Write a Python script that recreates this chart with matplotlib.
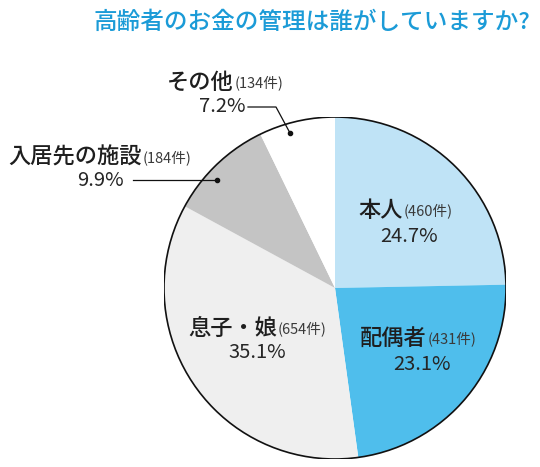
import matplotlib
matplotlib.use("Agg")
import matplotlib.pyplot as plt

plt.rcParams['font.family'] = ['Noto Sans CJK JP', 'DejaVu Sans']

title = "高齢者のお金の管理は誰がしていますか?"
categories = ["本人", "配偶者", "息子・娘", "入居先の施設", "その他"]
counts = [460, 431, 654, 184, 134]
percents = ["24.7%", "23.1%", "35.1%", "9.9%", "7.2%"]
colors = ["#bfe3f6", "#4fbeec", "#efefef", "#c4c4c4", "#ffffff"]

W, H = 540, 467
fig = plt.figure(figsize=(W / 100, H / 100), dpi=100)

cx, cy, R = 335, 288, 171
ax = fig.add_axes([(cx - R) / W, (H - cy - R) / H, 2 * R / W, 2 * R / H])
ax.pie(counts, colors=colors, startangle=90, counterclock=False, radius=1,
       wedgeprops=dict(linewidth=0))
ax.add_patch(plt.Circle((0, 0), 1, fill=False, edgecolor="#111111", linewidth=1.2))
ax.set_xlim(-1.0, 1.0)
ax.set_ylim(-1.0, 1.0)
ax.set_aspect('equal')
ax.axis('off')


def fx(px):
    return px / W


def fy(py):
    return 1 - py / H


def dx(px):
    return (px - cx) / R


def dy(py):
    return (cy - py) / R


fig.text(fx(530), fy(22), title, color="#1b9bd7", fontsize=17, fontweight='medium',
         ha='right', va='center')

name_kw = dict(fontsize=16, fontweight='medium', color="#1e1e1e", va='center')
cnt_kw = dict(fontsize=10.5, color="#3a3a3a", va='center')
pct_kw = dict(fontsize=14.5, color="#262626", va='center', ha='center')


def label(i, x_left, y_name, x_pct, y_pct):
    t = fig.text(fx(x_left), fy(y_name), categories[i], ha='left', **name_kw)
    fig.canvas.draw()
    bb = t.get_window_extent()
    fig.text(bb.x1 / W + 0.002, fy(y_name + 1), f"({counts[i]}件)", ha='left', **cnt_kw)
    fig.text(fx(x_pct), fy(y_pct), percents[i], **pct_kw)


label(0, 358, 210, 409, 237)
label(1, 360, 338, 422, 365)
label(2, 188, 328, 257, 353)
label(3, 8, 157, 100, 181)
label(4, 167, 82, 222, 107)

# leader lines
ax.plot([dx(248), dx(276), dx(290)], [dy(107), dy(107), dy(133)], color="#111111",
        lw=0.9, clip_on=False)
ax.plot([dx(290)], [dy(133)], 'o', color="#111111", ms=3, clip_on=False)
ax.plot([dx(133), dx(217)], [dy(180), dy(180)], color="#111111", lw=0.9, clip_on=False)
ax.plot([dx(217)], [dy(180)], 'o', color="#111111", ms=3, clip_on=False)

fig.savefig("out.png", dpi=100, facecolor="white")
